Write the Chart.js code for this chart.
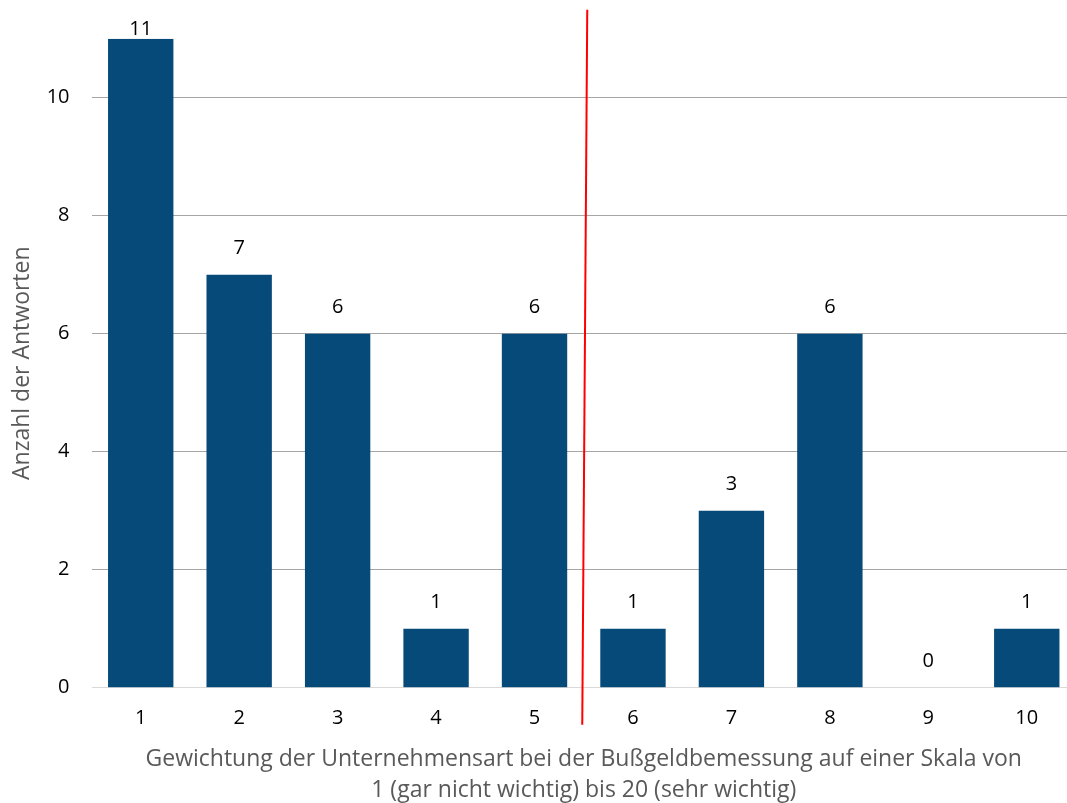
<!DOCTYPE html>
<html>
<head>
<meta charset="utf-8">
<script src="https://cdn.jsdelivr.net/npm/chart.js@4.4.0/dist/chart.umd.min.js"></script>
<style>
  html, body { margin: 0; padding: 0; background: #fff; overflow: hidden; }
  #wrap { width: 1067px; height: 803px; overflow: hidden; }
</style>
</head>
<body>
<div id="wrap"><canvas id="myChart" width="1076" height="803"></canvas></div>
<script>
var categories = ['1', '2', '3', '4', '5', '6', '7', '8', '9', '10'];
var answers = [11, 7, 6, 1, 6, 1, 3, 6, 0, 1];
var yTitle = 'Anzahl der Antworten';
var xTitle = ['Gewichtung der Unternehmensart bei der Bußgeldbemessung auf einer Skala von',
              '1 (gar nicht wichtig) bis 20 (sehr wichtig)'];

var fontFamily = '"Open Sans", "Noto Sans", sans-serif';

// Werte über den Balken
const valueLabels = {
  id: 'valueLabels',
  afterDatasetsDraw(chart) {
    const ctx = chart.ctx;
    const meta = chart.getDatasetMeta(0);
    ctx.save();
    ctx.font = '20px ' + fontFamily;
    ctx.fillStyle = '#000';
    ctx.textAlign = 'center';
    ctx.textBaseline = 'middle';
    meta.data.forEach((bar, i) => {
      let y = Math.max(bar.y - 26, 29);
      ctx.fillText(String(answers[i]), bar.x, y);
    });
    ctx.restore();
  }
};

// rote Trennlinie zwischen 5 und 6
const divider = {
  id: 'divider',
  afterDraw(chart) {
    const ctx = chart.ctx;
    const x = chart.scales.x.getPixelForValue(4.5);
    const area = chart.chartArea;
    ctx.save();
    ctx.strokeStyle = '#FF0000';
    ctx.lineWidth = 2;
    ctx.beginPath();
    ctx.moveTo(x + 3.5, area.top - 29);
    ctx.lineTo(x - 1.5, area.bottom + 37);
    ctx.stroke();
    ctx.restore();
  }
};

const ctx = document.getElementById('myChart');
const chart = new Chart(ctx, {
  type: 'bar',
  data: {
    labels: categories,
    datasets: [{
      data: answers,
      backgroundColor: '#054A78',
      borderWidth: 0,
      barPercentage: 0.664,
      categoryPercentage: 1.0
    }]
  },
  options: {
    responsive: false,
    animation: false,
    layout: { padding: { top: 38.7, left: 0, right: 0, bottom: 0 } },
    plugins: { legend: { display: false }, tooltip: { enabled: false } },
    scales: {
      x: {
        grid: { display: false, drawTicks: false },
        border: { display: false },
        ticks: { color: '#000', padding: 19, font: { size: 20, family: fontFamily } },
        title: {
          display: true,
          text: xTitle,
          color: '#595959',
          padding: { top: 0, bottom: -3 },
          font: { size: 23, family: fontFamily, lineHeight: 1.35 }
        },
        afterFit(scale) { scale.height = 803 - 687.7; }
      },
      y: {
        min: 0,
        max: 11,
        ticks: {
          stepSize: 2,
          color: '#000',
          padding: 22,
          font: { size: 20, family: fontFamily },
          callback: function (v) { return v % 2 === 0 ? v : null; }
        },
        grid: {
          drawTicks: false,
          lineWidth: 1,
          color: function (c) { return c.tick && c.tick.value === 0 ? '#D9D9D9' : '#A6A6A6'; }
        },
        border: { display: false },
        title: {
          display: true,
          text: yTitle,
          color: '#595959',
          padding: { top: 9, bottom: 0 },
          font: { size: 23, family: fontFamily }
        },
        afterFit(scale) { scale.width = 91.5; }
      }
    }
  },
  plugins: [valueLabels, divider]
});
</script>
</body>
</html>
